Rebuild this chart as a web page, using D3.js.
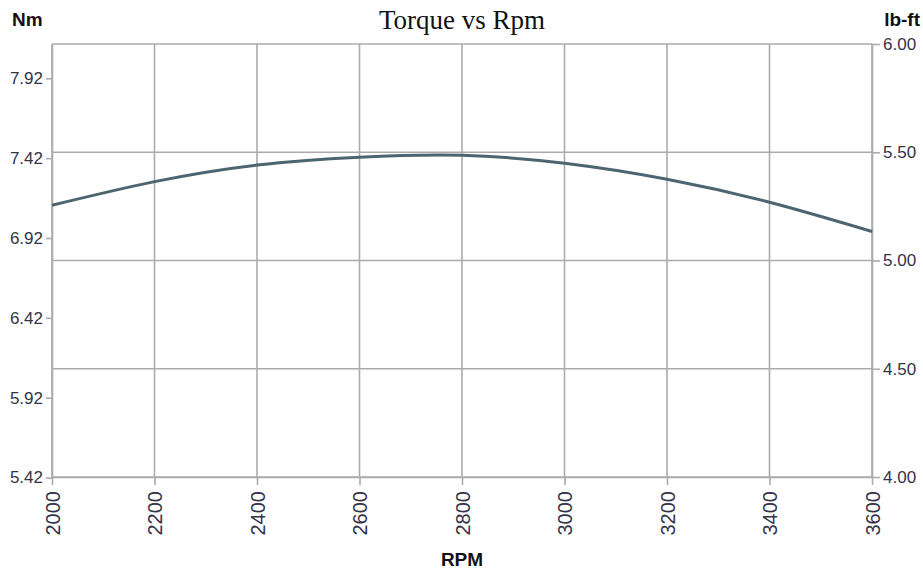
<!DOCTYPE html>
<html>
<head>
<meta charset="utf-8">
<script src="https://cdn.jsdelivr.net/npm/d3@7"></script>
<style>
  body { margin: 0; background: #fff; }
  .tick text { font-family: "Liberation Sans", Arial, sans-serif; fill: #33334a; }
</style>
</head>
<body>
<div id="chart"></div>
<script>
// rpm vs torque (Nm)
const rpm = [2000, 2200, 2400, 2600, 2800, 3000, 3200, 3400, 3600];
const torqueNm = [7.125, 7.273, 7.377, 7.426, 7.438, 7.388, 7.288, 7.144, 6.961];
const nmTicks = [5.42, 5.92, 6.42, 6.92, 7.42, 7.92];
const lbftTicks = [4.00, 4.50, 5.00, 5.50, 6.00];
const NM_PER_LBFT = 1.35582;

var width = 923
var height = 573
var margin = {top: 44, right: 51, bottom: 96, left: 52}
var w = width - margin.left - margin.right
var h = height - margin.top - margin.bottom

var svg = d3.select('#chart')
  .append('svg')
    .attr('width', width)
    .attr('height', height)

var g = svg.append('g')
    .attr('transform', 'translate(' + margin.left + ',' + margin.top + ')')

var x = d3.scaleLinear().domain([2000, 3600]).range([0, w])
var yR = d3.scaleLinear().domain([4, 6]).range([h, 0])
var yL = d3.scaleLinear().domain([4 * NM_PER_LBFT, 6 * NM_PER_LBFT]).range([h, 0])

var gridColor = '#ababab'

// horizontal grid from the lb-ft axis
g.selectAll('.hgrid')
  .data(lbftTicks)
  .enter()
  .append('line')
  .attr('x1', 0).attr('x2', w)
  .attr('y1', d => yR(d)).attr('y2', d => yR(d))
  .attr('stroke', gridColor)
  .attr('stroke-width', 1.6)

// vertical grid
g.selectAll('.vgrid')
  .data(rpm)
  .enter()
  .append('line')
  .attr('x1', d => x(d)).attr('x2', d => x(d))
  .attr('y1', 0).attr('y2', h)
  .attr('stroke', gridColor)
  .attr('stroke-width', 1.6)

// axes
var xAxis = g.append('g')
  .attr('transform', 'translate(0,' + h + ')')
  .call(d3.axisBottom(x).tickValues(rpm).tickFormat(d3.format('d')).tickSize(8).tickSizeOuter(0))
xAxis.selectAll('text')
  .attr('transform', 'rotate(-90)')
  .attr('text-anchor', 'end')
  .attr('x', -14)
  .attr('y', 0)
  .attr('dy', '0.36em')
  .style('font-size', '20px')

var leftAxis = g.append('g')
  .call(d3.axisLeft(yL).tickValues(nmTicks).tickFormat(d3.format('.2f')).tickSize(6).tickSizeOuter(0))
leftAxis.selectAll('text').attr('x', -9).style('font-size', '17px')

var rightAxis = g.append('g')
  .attr('transform', 'translate(' + w + ',0)')
  .call(d3.axisRight(yR).tickValues(lbftTicks).tickFormat(d3.format('.2f')).tickSize(8).tickSizeOuter(0))
rightAxis.selectAll('text').attr('x', 11).style('font-size', '17px')

svg.selectAll('.domain').attr('stroke', gridColor).attr('stroke-width', 1.6)
svg.selectAll('.tick line').attr('stroke', gridColor).attr('stroke-width', 1.6)

// torque curve
var pts = rpm.map((r, i) => [r, torqueNm[i]])
g.append('path')
  .datum(pts)
  .attr('fill', 'none')
  .attr('stroke', '#4d6570')
  .attr('stroke-width', 3)
  .attr('d', d3.line()
    .x(d => x(d[0]))
    .y(d => yL(d[1]))
    .curve(d3.curveNatural))

// labels
var boldFont = '"Liberation Sans", Arial, sans-serif'
svg.append('text')
  .attr('x', 12).attr('y', 26)
  .style('font-family', boldFont).style('font-weight', 'bold').style('font-size', '19px')
  .attr('fill', '#111')
  .text('Nm')
svg.append('text')
  .attr('x', 920).attr('y', 26)
  .attr('text-anchor', 'end')
  .style('font-family', boldFont).style('font-weight', 'bold').style('font-size', '19px')
  .attr('fill', '#111')
  .text('lb-ft')
svg.append('text')
  .attr('x', margin.left + w / 2).attr('y', 566)
  .attr('text-anchor', 'middle')
  .style('font-family', boldFont).style('font-weight', 'bold').style('font-size', '19px')
  .attr('fill', '#111')
  .text('RPM')
svg.append('text')
  .attr('x', margin.left + w / 2).attr('y', 29)
  .attr('text-anchor', 'middle')
  .style('font-family', '"Liberation Serif", "Times New Roman", serif').style('font-size', '27px')
  .attr('fill', '#111')
  .text('Torque vs Rpm')
</script>
</body>
</html>
